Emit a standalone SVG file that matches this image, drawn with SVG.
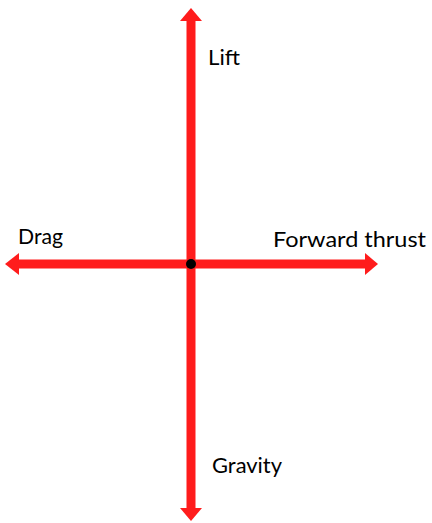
<svg xmlns="http://www.w3.org/2000/svg" width="432" height="523" viewBox="0 0 432 523">
<style>
.ax{stroke:#ff1c1c;stroke-width:9;fill:none}
.hd{fill:#ff1c1c}
.lb{font-family:"Lato","Open Sans","Liberation Sans",sans-serif;font-size:20.5px;fill:#000}
</style>
<rect width="432" height="523" fill="#fff"/>
<g id="connectors">
<line class="ax" x1="191" y1="20" x2="191" y2="509"/>
<line class="ax" x1="18" y1="264" x2="366" y2="264"/>
<polygon class="hd" points="191,8 202,21 180,21"/>
<polygon class="hd" points="191,521 202,508 180,508"/>
<polygon class="hd" points="5,264 19,253 19,275"/>
<polygon class="hd" points="378,264 365,253 365,275"/>
</g>
<g id="center"><circle cx="191" cy="264" r="5" fill="#000"/></g>
<g id="lift"><text class="lb" x="208" y="65" textLength="32" lengthAdjust="spacingAndGlyphs">Lift</text></g>
<g id="drag"><text class="lb" x="18" y="244" textLength="45" lengthAdjust="spacingAndGlyphs">Drag</text></g>
<g id="thrust"><text class="lb" x="273" y="247" textLength="153" lengthAdjust="spacingAndGlyphs">Forward thrust</text></g>
<g id="gravity"><text class="lb" x="212" y="473" textLength="70" lengthAdjust="spacingAndGlyphs">Gravity</text></g>
</svg>
